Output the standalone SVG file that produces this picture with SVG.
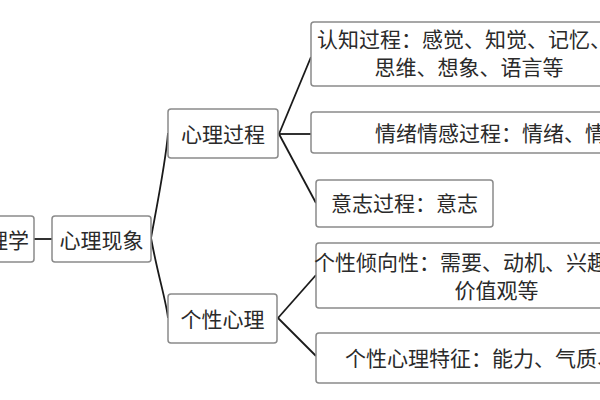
<svg xmlns="http://www.w3.org/2000/svg" width="600" height="400" viewBox="0 0 600 400">
<style>
.box{fill:#fff;stroke:#8a8a8a;stroke-width:1.5}
.t{font-family:"Noto Sans CJK SC","Liberation Sans",sans-serif;font-size:21px;fill:#2a2a2a;dominant-baseline:central}
.c{text-anchor:middle}
.ln{fill:none;stroke:#1a1a1a;stroke-width:1.8}
</style>
<rect width="600" height="400" fill="#fff"/>
<g id="connectors">
<line class="ln" x1="34" y1="239" x2="52" y2="239"/>
<path class="ln" d="M151,238 C158,200 166,160 168,133"/>
<path class="ln" d="M151,238 C158,276 166,300 168,318"/>
<line class="ln" x1="279" y1="134" x2="311" y2="57"/>
<line class="ln" x1="279" y1="134" x2="311" y2="134"/>
<line class="ln" x1="279" y1="134" x2="316" y2="203"/>
<line class="ln" x1="278" y1="318" x2="316" y2="275"/>
<line class="ln" x1="278" y1="318" x2="316" y2="356"/>
</g>
<g id="n-xinlixue">
<rect class="box" x="-40" y="216" width="74" height="46" rx="3"/>
<text class="t" x="29" y="239" text-anchor="end">心理学</text>
</g>
<g id="n-xinlixianxiang">
<rect class="box" x="52" y="216" width="99" height="46" rx="3"/>
<text class="t c" x="101.5" y="239">心理现象</text>
</g>
<g id="n-xinliguocheng">
<rect class="box" x="168" y="109" width="110" height="49" rx="3"/>
<text class="t c" x="223" y="133">心理过程</text>
</g>
<g id="n-gexingxinli">
<rect class="box" x="168" y="294" width="109" height="49" rx="3"/>
<text class="t c" x="222.5" y="318">个性心理</text>
</g>
<g id="n-renzhi">
<rect class="box" x="311" y="22" width="320" height="64" rx="3"/>
<text class="t" x="317" y="38">认知过程：感觉、知觉、记忆、</text>
<text class="t c" x="469" y="66">思维、想象、语言等</text>
</g>
<g id="n-qingxu">
<rect class="box" x="311" y="112" width="320" height="41" rx="3"/>
<text class="t" x="375" y="132">情绪情感过程：情绪、情感</text>
</g>
<g id="n-yizhi">
<rect class="box" x="316" y="180" width="177" height="47" rx="3"/>
<text class="t c" x="404.5" y="202">意志过程：意志</text>
</g>
<g id="n-qingxiang">
<rect class="box" x="316" y="243" width="320" height="65" rx="3"/>
<text class="t" x="314" y="261">个性倾向性：需要、动机、兴趣、</text>
<text class="t c" x="496.5" y="289">价值观等</text>
</g>
<g id="n-tezheng">
<rect class="box" x="316" y="333" width="320" height="50" rx="3"/>
<text class="t" x="345" y="357">个性心理特征：能力、气质、性格</text>
</g>
</svg>
